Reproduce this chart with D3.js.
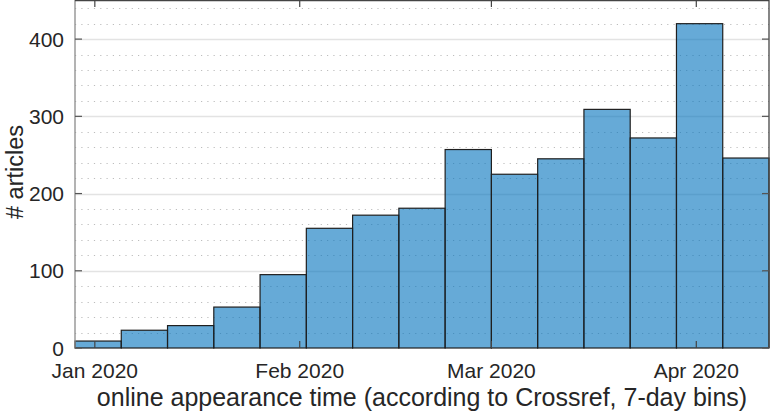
<!DOCTYPE html>
<html><head><meta charset="utf-8">
<script src="https://cdn.jsdelivr.net/npm/d3@7"></script>
<style>body{margin:0;background:#fff}svg{display:block}text{font-family:"Liberation Sans",Arial,Helvetica,sans-serif;fill:#262626}</style>
</head><body><svg id="c" width="770" height="414"></svg>
<script>
// data
const binStarts = ["2019-12-29","2020-01-05","2020-01-12","2020-01-19","2020-01-26","2020-02-02","2020-02-09","2020-02-16","2020-02-23","2020-03-01","2020-03-08","2020-03-15","2020-03-22","2020-03-29","2020-04-05"];
const counts = [9, 23, 29, 53, 95, 155, 172, 181, 257, 225, 245, 309, 272, 420, 246];
const xTickDates = ["2020-01-01","2020-02-01","2020-03-01","2020-04-01"];
const xTickLabels = ["Jan 2020","Feb 2020","Mar 2020","Apr 2020"];
const yTicks = [0, 100, 200, 300, 400];
const yMinorTicks = [20,40,60,80,120,140,160,180,220,240,260,280,320,340,360,380,420,440];
const xDomain = ["2019-12-29","2020-04-12"];
const yMax = 450;

const svg = d3.select("#c");
const L = 75, R = 769, T = 0.5, B = 348;
const parse = d3.utcParse("%Y-%m-%d");
const x = d3.scaleUtc().domain(xDomain.map(parse)).range([L, R]);
const y = d3.scaleLinear().domain([0, yMax]).range([B, T]);

// grid
svg.append("g").selectAll("line").data(yMinorTicks).join("line")
  .attr("x1", L).attr("x2", R).attr("y1", d => Math.round(y(d)) + 0.5).attr("y2", d => Math.round(y(d)) + 0.5)
  .attr("stroke", "#bdbdbd").attr("stroke-width", 1).attr("stroke-dasharray", "1.2,5.1");
svg.append("g").selectAll("line").data(yTicks.filter(d => d > 0)).join("line")
  .attr("x1", L).attr("x2", R).attr("y1", d => Math.round(y(d)) + 0.5).attr("y2", d => Math.round(y(d)) + 0.5)
  .attr("stroke", "#e3e3e3").attr("stroke-width", 1.3);

// bars
svg.append("g").selectAll("rect").data(counts).join("rect")
  .attr("x", (d, i) => x(parse(binStarts[i])))
  .attr("width", (d, i) => x(d3.utcDay.offset(parse(binStarts[i]), 7)) - x(parse(binStarts[i])))
  .attr("y", d => y(d)).attr("height", d => B - y(d))
  .attr("fill", "rgb(0,114,189)").attr("fill-opacity", 0.6)
  .attr("stroke", "#1f1f1f").attr("stroke-width", 1.2);

// axes box
const ax = svg.append("g");
ax.append("line").attr("x1", L).attr("x2", L).attr("y1", 0).attr("y2", B).attr("stroke", "#8a8a8a").attr("stroke-width", 1.3);
ax.append("line").attr("x1", L).attr("x2", R).attr("y1", 0.5).attr("y2", 0.5).attr("stroke", "#444").attr("stroke-width", 1.3);
ax.append("line").attr("x1", R).attr("x2", R).attr("y1", 0).attr("y2", B).attr("stroke", "#444").attr("stroke-width", 1.3);

// y ticks
const tl = 7;
ax.selectAll(".yt").data(yTicks).join("line").attr("class","yt")
  .attr("x1", L).attr("x2", L + tl).attr("y1", d => y(d)).attr("y2", d => y(d)).attr("stroke", "#555").attr("stroke-width", 1.2);
ax.selectAll(".yt2").data(yTicks).join("line").attr("class","yt2")
  .attr("x1", R - tl).attr("x2", R).attr("y1", d => y(d)).attr("y2", d => y(d)).attr("stroke", "#555").attr("stroke-width", 1.2);
ax.selectAll(".yl").data(yTicks).join("text").attr("class","yl")
  .attr("x", 64).attr("y", d => y(d) + 7.5).attr("text-anchor", "end").attr("font-size", 21).text(d => d);

// x ticks
const xt = xTickDates.map(parse);
ax.selectAll(".xt").data(xt).join("line").attr("class","xt")
  .attr("x1", d => x(d)).attr("x2", d => x(d)).attr("y1", B).attr("y2", B - tl).attr("stroke", "#444").attr("stroke-width", 1.2);
ax.selectAll(".xt2").data(xt).join("line").attr("class","xt2")
  .attr("x1", d => x(d)).attr("x2", d => x(d)).attr("y1", 0).attr("y2", tl).attr("stroke", "#444").attr("stroke-width", 1.2);
ax.selectAll(".xl").data(xt).join("text").attr("class","xl")
  .attr("x", d => x(d)).attr("y", 378).attr("text-anchor", "middle").attr("font-size", 21).text((d, i) => xTickLabels[i]);

// labels
svg.append("text").attr("x", (L + R) / 2).attr("y", 406).attr("text-anchor", "middle").attr("font-size", 25)
  .text("online appearance time (according to Crossref, 7-day bins)");
svg.append("text").attr("transform", `translate(23,172) rotate(-90)`).attr("text-anchor", "middle").attr("font-size", 23.5)
  .text("# articles");
</script></body></html>
